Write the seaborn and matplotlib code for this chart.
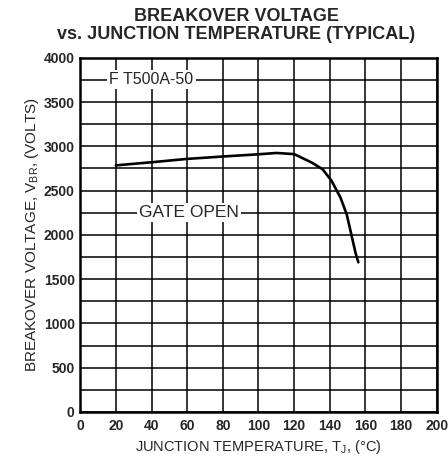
import numpy as np
import pandas as pd
import seaborn as sns
import matplotlib.pyplot as plt

# values
temp_c = [20, 40, 60, 80, 100, 110, 120, 130, 136, 141, 146, 149.5, 152, 154.5, 156]
v_br = [2785, 2820, 2858, 2885, 2910, 2925, 2912, 2815, 2740, 2610, 2420, 2230, 2010, 1790, 1690]

x_ticks = [0, 20, 40, 60, 80, 100, 120, 140, 160, 180, 200]
y_ticks = [0, 500, 1000, 1500, 2000, 2500, 3000, 3500, 4000]
y_grid = list(range(0, 4001, 250))

device_label = "F T500A-50"
curve_label = "GATE OPEN"

sns.set_style("white")
plt.rcParams['font.family'] = ['Liberation Sans', 'DejaVu Sans']
plt.rcParams['mathtext.fontset'] = 'custom'
plt.rcParams['mathtext.rm'] = 'Liberation Sans'

df = pd.DataFrame({'temp': temp_c, 'vbr': v_br})

fig = plt.figure(figsize=(4.48, 4.66), dpi=100)
ax = fig.add_axes([0.179, 0.116, 0.796, 0.76])

sns.lineplot(data=df, x='temp', y='vbr', ax=ax, color='black', linewidth=1.9, zorder=5)

ax.set_xlim(0, 200)
ax.set_ylim(0, 4000)
ax.set_xticks(x_ticks)
ax.set_yticks(y_ticks)
ax.set_yticks(y_grid, minor=True)
ax.grid(True, which='both', color='black', linewidth=1.1)
ax.set_axisbelow(True)
for s in ax.spines.values():
    s.set_linewidth(1.8)
    s.set_color('black')

ax.tick_params(axis='y', which='major', length=3, width=1.1, labelsize=10, pad=1)
ax.tick_params(axis='y', which='minor', length=0)
ax.tick_params(axis='x', length=0, labelsize=10, pad=5)
for lbl in ax.get_xticklabels() + ax.get_yticklabels():
    lbl.set_fontweight('semibold')

ax.set_xlabel("JUNCTION TEMPERATURE, T$_\\mathregular{J}$, (°C)", fontsize=10.5, labelpad=4)
ax.set_ylabel("BREAKOVER VOLTAGE, V$_\\mathregular{BR}$, (VOLTS)", fontsize=11, labelpad=2)

fig.suptitle("BREAKOVER VOLTAGE\nvs. JUNCTION TEMPERATURE (TYPICAL)", fontsize=13,
             fontweight='bold', x=0.528, y=0.983, linespacing=1.1)

ax.text(40, 3750, device_label, ha='center', va='center', fontsize=11.5, zorder=6,
        bbox=dict(facecolor='white', edgecolor='none', pad=1.5))
ax.text(61, 2250, curve_label, ha='center', va='center', fontsize=12.5, zorder=6,
        bbox=dict(facecolor='white', edgecolor='none', pad=1.5))

fig.savefig('out.png', dpi=100)
